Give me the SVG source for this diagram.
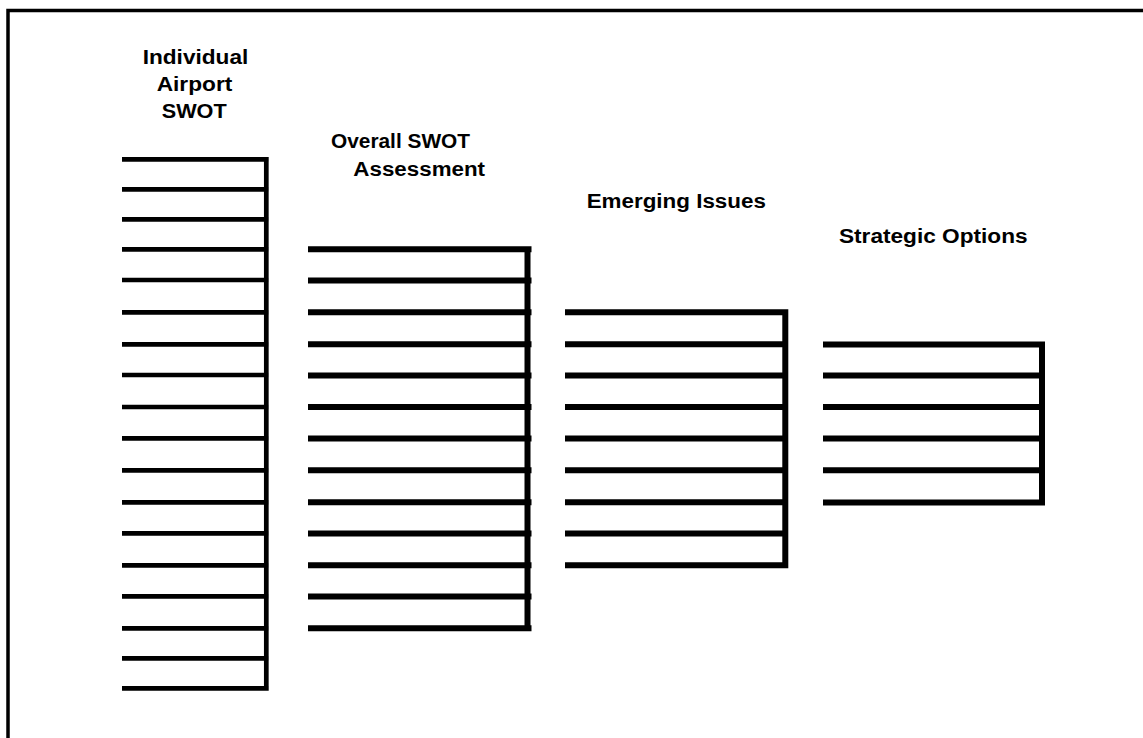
<svg xmlns="http://www.w3.org/2000/svg" width="1143" height="738" viewBox="0 0 1143 738">
<style>
.lbl{font-family:"Liberation Sans",Arial,sans-serif;font-weight:bold;font-size:20px;fill:#000;text-anchor:middle}
.thin{fill:none;stroke:#000;stroke-width:4.7;stroke-linecap:butt}
.thick{fill:none;stroke:#000;stroke-width:6;stroke-linecap:butt}
</style>
<rect width="1143" height="738" fill="#fff"/>
<path d="M8 738V10.5H1143" fill="none" stroke="#000" stroke-width="3.5"/>
<g id="individual-airport-swot">
<text class="lbl" x="195.5" y="64" textLength="105.6" lengthAdjust="spacingAndGlyphs">Individual</text>
<text class="lbl" x="194.5" y="91" textLength="75.6" lengthAdjust="spacingAndGlyphs">Airport</text>
<text class="lbl" x="194.2" y="118" textLength="65" lengthAdjust="spacingAndGlyphs">SWOT</text>
<path class="thin" d="M266.3 156.9V690.7M122 159.3H268.7M122 189.3H268.7M122 219.3H268.7M122 249.3H268.7M122 280H268.7M122 312.3H268.7M122 344.3H268.7M122 375H268.7M122 407H268.7M122 438.3H268.7M122 470.3H268.7M122 502.3H268.7M122 533.3H268.7M122 565.3H268.7M122 596.3H268.7M122 628.3H268.7M122 658.3H268.7M122 688.3H268.7"/>
</g>
<g id="overall-swot-assessment">
<text class="lbl" x="400.5" y="148" textLength="139" lengthAdjust="spacingAndGlyphs">Overall SWOT</text>
<text class="lbl" x="419.2" y="176" textLength="131.7" lengthAdjust="spacingAndGlyphs">Assessment</text>
<path class="thick" d="M527.5 246.3V631.3M308 249.3H531.5M308 280.5H531.5M308 312.3H531.5M308 344.3H531.5M308 375.5H531.5M308 407H531.5M308 438.5H531.5M308 470.3H531.5M308 502.3H531.5M308 533.5H531.5M308 565.3H531.5M308 596.5H531.5M308 628.3H531.5"/>
</g>
<g id="emerging-issues">
<text class="lbl" x="676.3" y="207.7" textLength="179.3" lengthAdjust="spacingAndGlyphs">Emerging Issues</text>
<path class="thick" d="M785.3 309.3V568.3M565 312.3H788.3M565 344.3H788.3M565 375.5H788.3M565 407H788.3M565 438.5H788.3M565 470.3H788.3M565 502.3H788.3M565 533.5H788.3M565 565.3H788.3"/>
</g>
<g id="strategic-options">
<text class="lbl" x="933.3" y="243" textLength="188.7" lengthAdjust="spacingAndGlyphs">Strategic Options</text>
<path class="thick" d="M1042 341.4V505.5M823 344.4H1045M823 375.5H1045M823 407H1045M823 438.5H1045M823 470.3H1045M823 502.5H1045"/>
</g>
<g id="connectors"></g>
</svg>
